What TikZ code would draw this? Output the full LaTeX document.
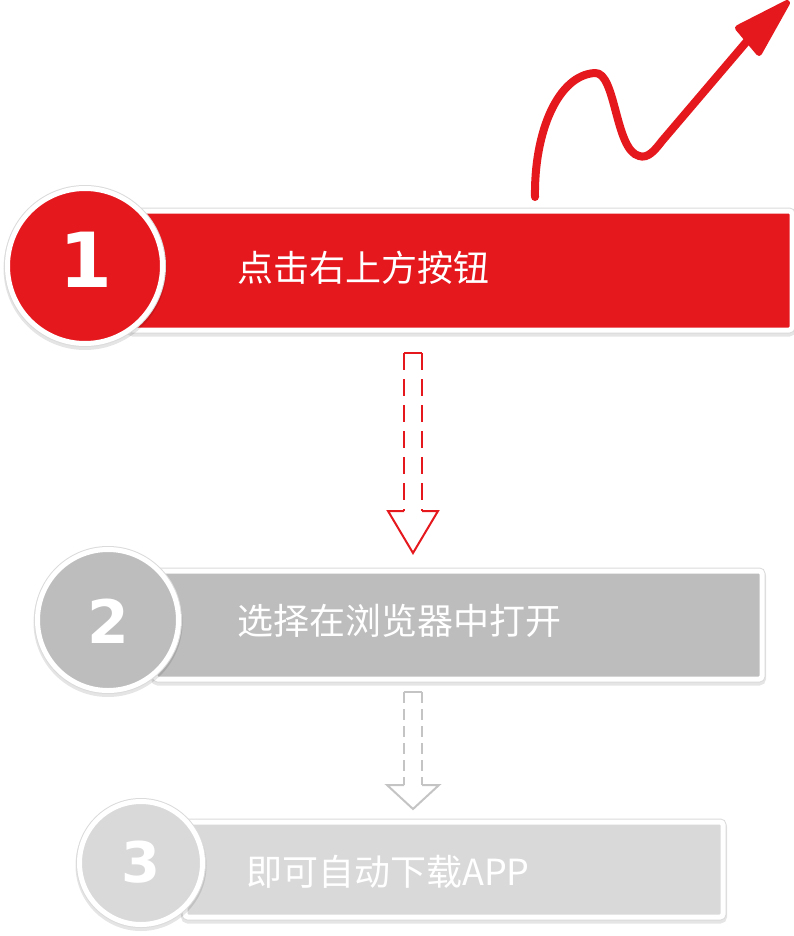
\documentclass[tikz,border=0pt]{standalone}
\usepackage{fontspec}
\newfontfamily\cjk{Noto Sans CJK SC}
\newfontfamily\numfont{DejaVu Sans}
\definecolor{brandred}{HTML}{E5181E}
\definecolor{graytwo}{HTML}{BDBDBD}
\definecolor{graythree}{HTML}{D9D9D9}
\definecolor{arrowgray}{HTML}{C4C4C4}
\tikzset{
  softshadow/.style={
    preaction={draw=black, fill=black, line width=8pt, opacity=0.10, transform canvas={yshift=-2.5pt}},
    preaction={draw=black!14, line width=7pt}},
  barbox/.style={rectangle, draw=white, line width=5pt, rounded corners=3pt, inner sep=0pt, anchor=north west, softshadow},
  numcircle/.style={circle, draw=white, line width=5pt, inner sep=0pt, softshadow},
  numtext/.style={text=white, font=\numfont\bfseries, inner sep=0pt},
  steptext/.style={text=white, anchor=west, inner sep=0pt},
  shaftline/.style={line width=2pt, dash pattern=on 17pt off 9pt},
  headline/.style={line width=2pt, line join=miter}
}
\begin{document}
\begin{tikzpicture}[x=1pt, y=-1pt]
\useasboundingbox (0,0) rectangle (793,936);

% squiggle arrow
\coordinate (sqstart) at (535,197);
\coordinate (sqpeak) at (595,73);
\coordinate (sqtrough) at (639,156);
\coordinate (sqend) at (748,40);
\draw[brandred, line width=8pt, line cap=round, line join=round]
  (sqstart) .. controls (534,132) and (558,75) .. (sqpeak)
  .. controls (616,72) and (615,150) .. (sqtrough)
  .. controls (648,159) and (655,150) .. (662,141) -- (sqend);
\fill[brandred, draw=brandred, line width=6pt, line join=round]
  (738,28) -- (787,3) -- (759,53) -- cycle;

% bars
\node[barbox, fill=brandred, minimum width=662pt, minimum height=119pt] (bar1) at (127.5,208.5) {};
\node[barbox, fill=graytwo, minimum width=607pt, minimum height=108pt] (bar2) at (152.5,568.5) {};
\node[barbox, fill=graythree, minimum width=538pt, minimum height=95pt] (bar3) at (182.5,819.5) {};

% circles
\node[numcircle, fill=brandred, minimum size=155pt] (c1) at (85,266) {};
\node[numcircle, fill=graytwo, minimum size=141pt] (c2) at (108,620) {};
\node[numcircle, fill=graythree, minimum size=123pt] (c3) at (141,863) {};

\node[numtext, font=\numfont\bfseries\fontsize{76pt}{80pt}\selectfont] (n1) at (86,260) {1};
\node[numtext, font=\numfont\bfseries\fontsize{60pt}{64pt}\selectfont] (n2) at (108,621) {2};
\node[numtext, font=\numfont\bfseries\fontsize{56pt}{60pt}\selectfont] (n3) at (141,862) {3};

\node[steptext, font=\cjk\fontsize{36pt}{40pt}\selectfont] (t1) at (237,268) {点击右上方按钮};
\node[steptext, font=\cjk\fontsize{36pt}{40pt}\selectfont] (t2) at (237,621) {选择在浏览器中打开};
\node[steptext, font=\cjk\fontsize{36pt}{40pt}\selectfont] (t3) at (246,872) {即可自动下载APP};

% dashed block arrow 1
\coordinate (a1tl) at (404,353);
\coordinate (a1tr) at (422,353);
\coordinate (a1bl) at (404,511);
\coordinate (a1br) at (422,511);
\coordinate (a1hl) at (388,511);
\coordinate (a1hr) at (438,511);
\coordinate (a1tip) at (413,553);
\draw[brandred, headline] (a1tl) -- (a1tr);
\draw[brandred, shaftline] (a1tl) -- (a1bl);
\draw[brandred, shaftline] (a1tr) -- (a1br);
\draw[brandred, headline] (a1bl) -- (a1hl) -- (a1tip) -- (a1hr) -- (a1br);

% dashed block arrow 2
\coordinate (a2tl) at (404,692);
\coordinate (a2tr) at (422,692);
\coordinate (a2bl) at (404,785);
\coordinate (a2br) at (422,785);
\coordinate (a2hl) at (387,785);
\coordinate (a2hr) at (439,785);
\coordinate (a2tip) at (413,809);
\draw[arrowgray, headline] (a2tl) -- (a2tr);
\draw[arrowgray, line width=2pt, dash pattern=on 11pt off 6pt] (a2tl) -- (a2bl);
\draw[arrowgray, line width=2pt, dash pattern=on 11pt off 6pt] (a2tr) -- (a2br);
\draw[arrowgray, headline] (a2bl) -- (a2hl) -- (a2tip) -- (a2hr) -- (a2br);
\end{tikzpicture}
\end{document}
